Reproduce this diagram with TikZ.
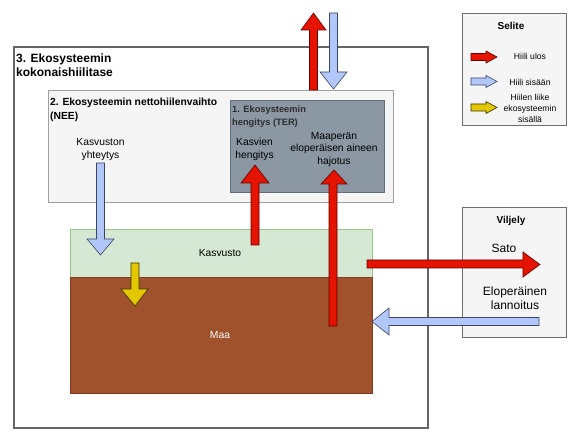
\documentclass[tikz,border=0pt]{standalone}
\usepackage{fontspec}
\setmainfont{Liberation Sans}
\begin{document}
\begin{tikzpicture}[x=1pt,y=-1pt,
  txt/.style={inner sep=0pt,align=center,font=\fontsize{10.3}{12.8}\selectfont},
  small/.style={inner sep=0pt,align=center,font=\fontsize{8.6}{11}\selectfont},
  boldlbl/.style={inner sep=0pt,align=center,font=\bfseries\fontsize{10}{12}\selectfont},
  redarr/.style={fill={rgb,255:red,229;green,20;blue,0},draw={rgb,255:red,100;green,0;blue,0},line width=0.6pt,line join=miter},
  bluearr/.style={fill={rgb,255:red,177;green,199;blue,250},draw={rgb,255:red,60;green,70;blue,100},line width=0.6pt},
  yelarr/.style={fill={rgb,255:red,227;green,200;blue,0},draw={rgb,255:red,60;green,50;blue,0},line width=0.6pt}]
\useasboundingbox (0,0) rectangle (579,441);
\fill[white] (0,0) rectangle (579,441);
% boxes
\draw[draw={rgb,255:red,102;green,102;blue,102},line width=1.8pt] (14,47) rectangle (428,428);
\node[anchor=west,inner sep=0pt,align=left,font=\bfseries\fontsize{12}{14.5}\selectfont] (t3) at (16,65) {3. Ekosysteemin\\kokonaishiilitase};
\draw[fill={rgb,255:red,245;green,245;blue,245},draw={rgb,255:red,160;green,160;blue,160},line width=0.7pt] (48,90) rectangle (393,202);
\node[anchor=west,inner sep=0pt,align=left,font=\bfseries\fontsize{10.3}{13.8}\selectfont] (t2) at (50,110) {2. Ekosysteemin nettohiilenvaihto\\(NEE)};
\draw[fill={rgb,255:red,139;green,151;blue,163},draw={rgb,255:red,100;green,110;blue,120},line width=0.6pt] (230,100) rectangle (384,192);
\node[anchor=west,inner sep=0pt,align=left,text={rgb,255:red,45;green,45;blue,45},font=\bfseries\fontsize{9.3}{13}\selectfont] (t1) at (232,116.5) {1. Ekosysteemin\\hengitys (TER)};
\node[txt] (ky) at (100.5,149.5) {Kasvuston\\yhteytys};
\node[txt] (kh) at (254.5,149.5) {Kasvien\\hengitys};
\node[txt] (mh) at (334,149.5) {Maaperän\\eloperäisen aineen\\hajotus};
% kasvusto & maa
\draw[fill={rgb,255:red,213;green,232;blue,212},draw={rgb,255:red,150;green,200;blue,130},line width=0.6pt] (70,229) rectangle (372,277);
\node[txt] (kasvusto) at (220,253) {Kasvusto};
\draw[fill={rgb,255:red,160;green,82;blue,45},draw={rgb,255:red,130;green,60;blue,30},line width=0.6pt] (70,277) rectangle (372,393);
\node[txt,text=white] (maa) at (220,335) {Maa};
% legend
\draw[fill={rgb,255:red,245;green,245;blue,245},draw={rgb,255:red,110;green,110;blue,110},line width=0.7pt] (462,13) rectangle (566,125);
\node[boldlbl] (selite) at (511,26) {Selite};
\node[small] (lu) at (530,56.5) {Hiili ulos};
\node[small] (ls) at (530,82) {Hiili sisään};
\node[small] (ll) at (530,108) {Hiilen liike\\ekosysteemin\\sisällä};
% viljely
\draw[fill={rgb,255:red,245;green,245;blue,245},draw={rgb,255:red,110;green,110;blue,110},line width=0.7pt] (462,207) rectangle (566,337);
\node[boldlbl] (viljely) at (511,221) {Viljely};
\node[inner sep=0pt,font=\fontsize{12}{14}\selectfont] (sato) at (504,248) {Sato};
\node[inner sep=0pt,align=center,font=\fontsize{12}{14}\selectfont] (elo) at (515,298) {Eloperäinen\\lannoitus};
% arrows
\draw[redarr] (309.5,90)--(309.5,30)--(301,30)--(313.5,13)--(326,30)--(317.5,30)--(317.5,90)--cycle;
\draw[bluearr] (329.5,13)--(337.5,13)--(337.5,72)--(347,72)--(333.5,89)--(320,72)--(329.5,72)--cycle;
\draw[bluearr] (96.5,163)--(104.5,163)--(104.5,239)--(114,239)--(100.5,255)--(87,239)--(96.5,239)--cycle;
\draw[redarr] (251,245)--(251,183)--(241,183)--(255,165)--(269,183)--(259,183)--(259,245)--cycle;
\draw[redarr] (329,326)--(329,184)--(321,184)--(334,170)--(347,184)--(337,184)--(337,326)--cycle;
\draw[yelarr] (131,263)--(139,263)--(139,289)--(148,289)--(135,306)--(121,289)--(131,289)--cycle;
\draw[redarr] (367,260)--(523,260)--(523,252)--(540,264.5)--(523,277)--(523,268)--(367,268)--cycle;
\draw[bluearr] (539,317.5)--(389,317.5)--(389,308)--(372,321.5)--(389,335)--(389,325.5)--(539,325.5)--cycle;
% legend arrows
\draw[redarr] (471,53.5)--(486,53.5)--(486,51)--(497,57)--(486,63)--(486,60.5)--(471,60.5)--cycle;
\draw[bluearr] (471,78)--(486,78)--(486,75.5)--(497,81.5)--(486,87.5)--(486,85)--(471,85)--cycle;
\draw[yelarr] (471,104)--(486,104)--(486,101.5)--(497,107.5)--(486,113.5)--(486,111)--(471,111)--cycle;
\end{tikzpicture}
\end{document}
